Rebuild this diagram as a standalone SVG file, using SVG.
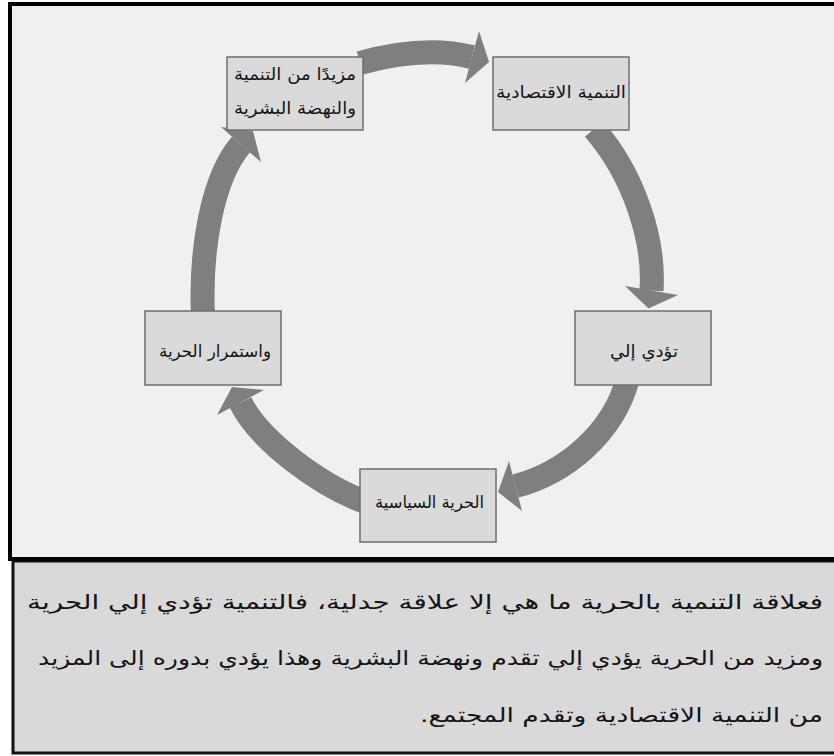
<svg xmlns="http://www.w3.org/2000/svg" width="834" height="756" viewBox="0 0 834 756">
<style>
.panel-top{fill:#f0f0f0;stroke:#000;stroke-width:4}
.panel-bot{fill:#d9d9d9;stroke:#111;stroke-width:3}
.box{fill:#dadada;stroke:#6e6e6e;stroke-width:1.5}
.arw{fill:none;stroke:#7f7f7f;stroke-width:24;stroke-linecap:butt}
.head{fill:#7f7f7f}
.lbl{font-family:"DejaVu Sans","Noto Sans",sans-serif;font-size:17px;fill:#151515;text-anchor:middle}
.para{font-family:"DejaVu Sans","Noto Sans",sans-serif;font-size:20px;fill:#151515;text-anchor:middle}
</style>
<rect class="panel-bot" x="13" y="561" width="830" height="192"/>
<rect class="panel-top" x="10" y="4" width="830" height="555"/>
<g id="connectors">
<path class="arw" d="M360,63 Q424,45 472,57"/>
<polygon class="head" points="479,31 489,62 465,83"/>
<path class="arw" d="M594,129 C634,175 655,240 651.5,290.5"/>
<polygon class="head" points="625,286 648.5,308.5 678,295"/>
<path class="arw" d="M628,378 C613.5,434 564,473.5 515.5,486"/>
<polygon class="head" points="509,461 498,492 522,511"/>
<path class="arw" d="M368,503 C320,486 259,440 240.5,402.5"/>
<polygon class="head" points="264,390 232,387 217,415"/>
<path class="arw" d="M203,316 C200,250 212,178 241,144.5"/>
<polygon class="head" points="221,127 253,131 261,162"/>
</g>
<g id="node-more">
<rect class="box" x="227" y="57" width="136" height="73"/>
<text class="lbl" x="295" y="80" textLength="122" lengthAdjust="spacingAndGlyphs">مزيدًا من التنمية</text>
<text class="lbl" x="295" y="114" textLength="122" lengthAdjust="spacingAndGlyphs">والنهضة البشرية</text>
</g>
<g id="node-economic">
<rect class="box" x="493" y="57" width="136" height="73"/>
<text class="lbl" x="561" y="98" textLength="130" lengthAdjust="spacingAndGlyphs">التنمية الاقتصادية</text>
</g>
<g id="node-leads">
<rect class="box" x="575" y="311" width="136" height="74"/>
<text class="lbl" x="644" y="357" textLength="68" lengthAdjust="spacingAndGlyphs">تؤدي إلي</text>
</g>
<g id="node-political">
<rect class="box" x="360" y="469" width="136" height="73"/>
<text class="lbl" x="429.5" y="508" textLength="109" lengthAdjust="spacingAndGlyphs">الحرية السياسية</text>
</g>
<g id="node-continuity">
<rect class="box" x="145" y="311" width="136" height="74"/>
<text class="lbl" x="215" y="357" textLength="112" lengthAdjust="spacingAndGlyphs">واستمرار  الحرية</text>
</g>
<g id="caption">
<text class="para" x="425" y="609" textLength="796" lengthAdjust="spacingAndGlyphs">فعلاقة التنمية بالحرية ما هي إلا علاقة جدلية، فالتنمية تؤدي إلي الحرية</text>
<text class="para" x="430.5" y="665" textLength="785" lengthAdjust="spacingAndGlyphs">ومزيد من الحرية يؤدي إلي تقدم ونهضة البشرية وهذا يؤدي بدوره إلى المزيد</text>
<text class="para" x="621.5" y="722" direction="rtl" textLength="403" lengthAdjust="spacingAndGlyphs">من التنمية الاقتصادية وتقدم المجتمع.</text>
</g>
</svg>
